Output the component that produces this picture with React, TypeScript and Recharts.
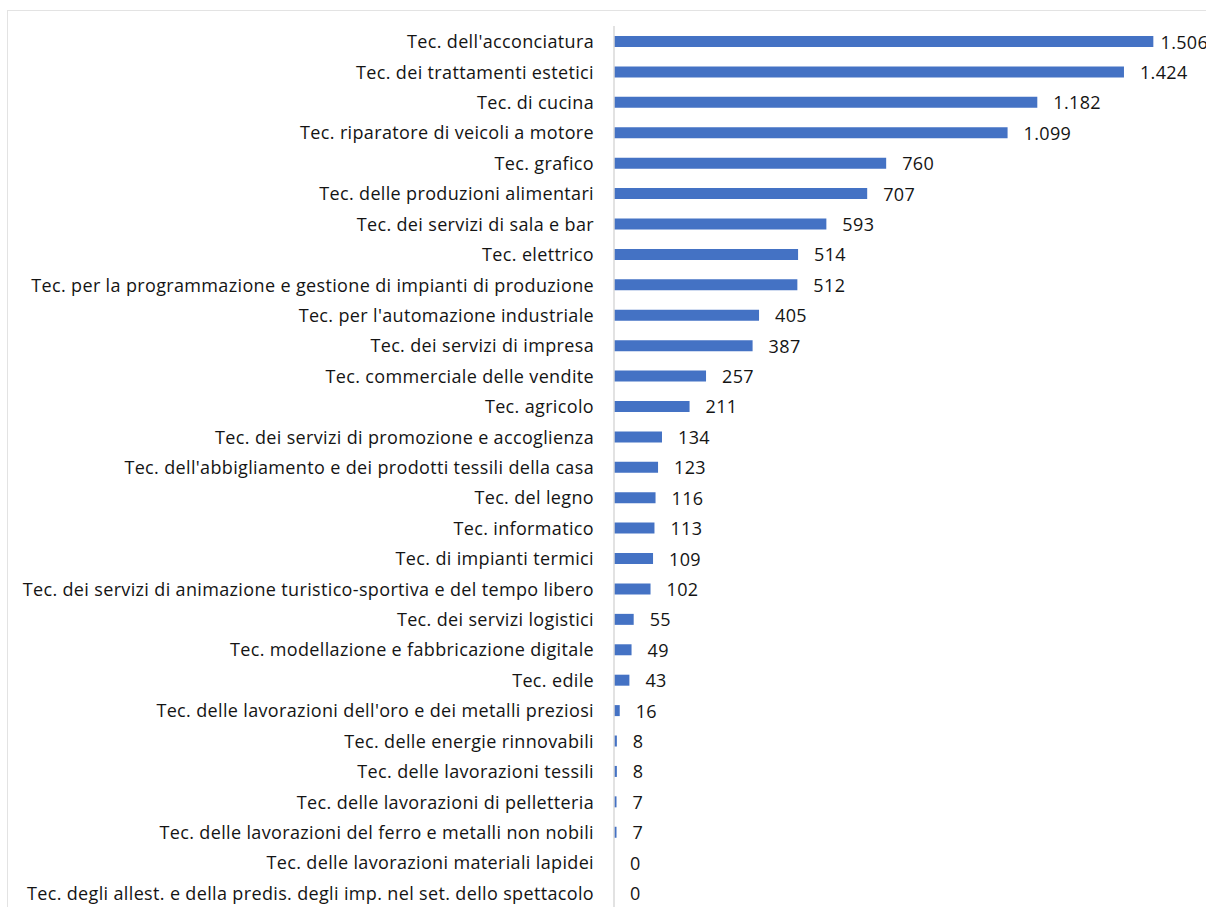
import { BarChart, Bar, XAxis, YAxis, LabelList } from "recharts";

const categories = [
  "Tec. dell'acconciatura",
  "Tec. dei trattamenti estetici",
  "Tec. di cucina",
  "Tec. riparatore di veicoli a motore",
  "Tec. grafico",
  "Tec. delle produzioni alimentari",
  "Tec. dei servizi di sala e bar",
  "Tec. elettrico",
  "Tec. per la programmazione e gestione di impianti di produzione",
  "Tec. per l'automazione industriale",
  "Tec. dei servizi di impresa",
  "Tec. commerciale delle vendite",
  "Tec. agricolo",
  "Tec. dei servizi di promozione e accoglienza",
  "Tec. dell'abbigliamento e dei prodotti tessili della casa",
  "Tec. del legno",
  "Tec. informatico",
  "Tec. di impianti termici",
  "Tec. dei servizi di animazione turistico-sportiva e del tempo libero",
  "Tec. dei servizi logistici",
  "Tec. modellazione e fabbricazione digitale",
  "Tec. edile",
  "Tec. delle lavorazioni dell'oro e dei metalli preziosi",
  "Tec. delle energie rinnovabili",
  "Tec. delle lavorazioni tessili",
  "Tec. delle lavorazioni di pelletteria",
  "Tec. delle lavorazioni del ferro e metalli non nobili",
  "Tec. delle lavorazioni materiali lapidei",
  "Tec. degli allest. e della predis. degli imp. nel set. dello spettacolo",
];

const values = [
  1506, 1424, 1182, 1099, 760, 707, 593, 514, 512, 405, 387, 257, 211, 134,
  123, 116, 113, 109, 102, 55, 49, 43, 16, 8, 8, 7, 7, 0, 0,
];

const FONT = "'Open Sans', sans-serif";
const FONT_SIZE = 18;
const SPACING = 0.35;
const LABEL_RIGHT = 1210; // excel pulls labels back inside the chart area

// 1506 -> "1.506"
const fmt = (v: number) => String(v).replace(/\B(?=(\d{3})+(?!\d))/g, ".");

const CategoryTick = ({ x, y, payload }: any) => (
  <text
    x={x}
    y={y}
    textAnchor="end"
    dominantBaseline="central"
    fontFamily={FONT}
    fontSize={FONT_SIZE}
    letterSpacing={SPACING}
    fill="#141414"
  >
    {payload.value}
  </text>
);

const ValueLabel = ({ x, y, width, height, value }: any) => {
  const txt = fmt(Number(value));
  const approxW = txt.length * 9.9;
  const lx = Math.min(Number(x) + Number(width) + 16, LABEL_RIGHT - approxW);
  return (
    <text
      x={lx}
      y={Number(y) + Number(height) / 2}
      dominantBaseline="central"
      fontFamily={FONT}
      fontSize={FONT_SIZE}
      letterSpacing={SPACING}
      fill="#141414"
    >
      {txt}
    </text>
  );
};

export default function App() {
  const data = categories.map((name, i) => ({ name, value: values[i] }));

  return (
    <div
      style={{
        position: "absolute",
        left: 0,
        top: 0,
        width: 1206,
        height: 907,
        overflow: "hidden",
        background: "#fff",
      }}
    >
      <div
        style={{
          position: "absolute",
          left: 7,
          top: 10,
          width: 1300,
          height: 1000,
          border: "1px solid #e3e3e3",
        }}
      />
      <div style={{ position: "absolute", left: 0, top: 0 }}>
        <BarChart
          width={1250}
          height={950}
          data={data}
          layout="vertical"
          margin={{ top: 26, right: 63, bottom: 42, left: 0 }}
        >
          <XAxis type="number" domain={[0, 1600]} hide />
          <YAxis
            type="category"
            dataKey="name"
            width={614}
            interval={0}
            tickLine={false}
            tickSize={0}
            tickMargin={20}
            axisLine={{ stroke: "#d9d9d9", strokeWidth: 1.5 }}
            tick={<CategoryTick />}
          />
          <Bar
            dataKey="value"
            fill="#4472C4"
            barSize={11}
            minPointSize={(v: number) => (v === 0 ? 0.01 : 0)}
            isAnimationActive={false}
          >
            <LabelList dataKey="value" content={<ValueLabel />} />
          </Bar>
        </BarChart>
      </div>
    </div>
  );
}
